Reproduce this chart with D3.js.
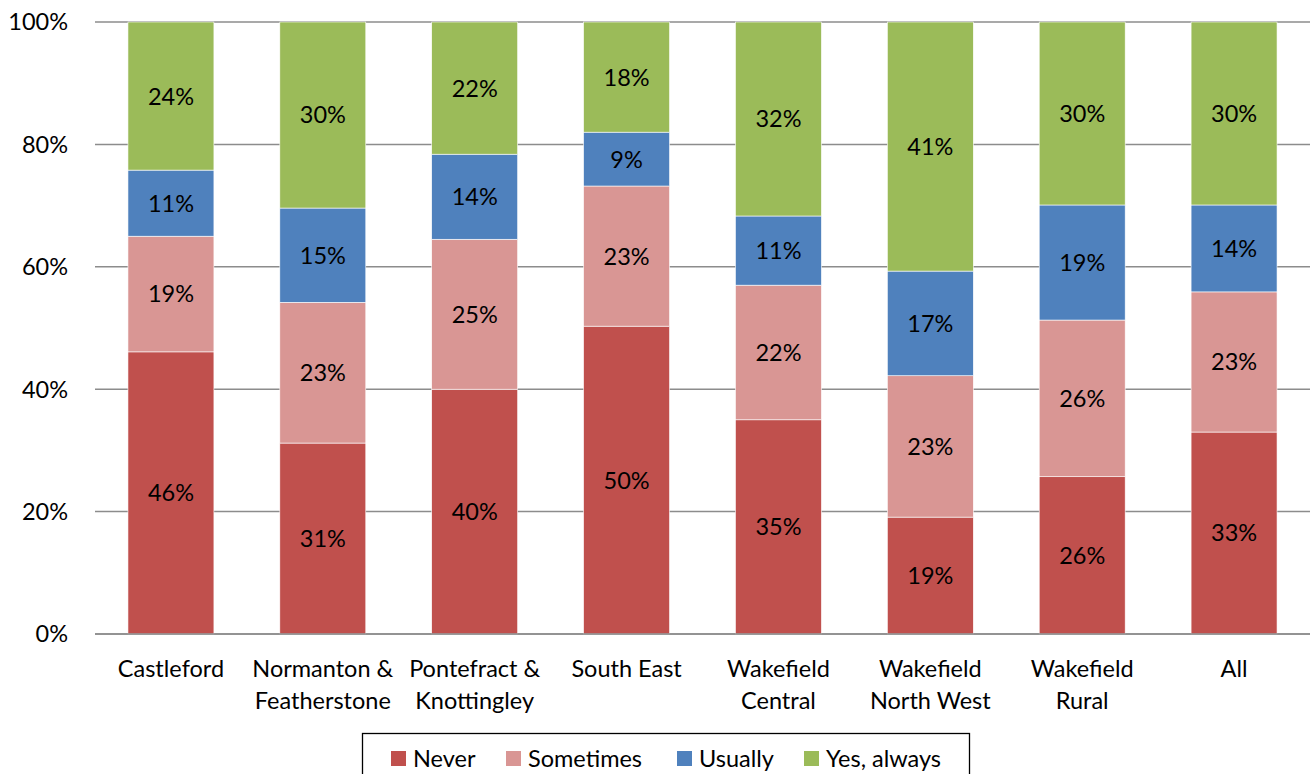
<!DOCTYPE html>
<html><head><meta charset="utf-8">
<script src="https://cdn.jsdelivr.net/npm/d3@7"></script>
<style>body{margin:0;background:#fff;} svg{display:block;font-family:Lato, "Open Sans", sans-serif;}</style>
</head><body>
<svg id="c" width="1314" height="774"></svg>
<script>
const categories = [["Castleford"],["Normanton &","Featherstone"],["Pontefract &","Knottingley"],["South East"],["Wakefield","Central"],["Wakefield","North West"],["Wakefield","Rural"],["All"]];
const seriesNames = ["Never","Sometimes","Usually","Yes, always"];
const never     = [46.1, 31.2, 40.0, 50.3, 35.0, 19.1, 25.7, 33.0];
const sometimes = [18.9, 23.0, 24.5, 22.9, 22.0, 23.1, 25.6, 22.9];
const usually   = [10.8, 15.4, 13.9,  8.8, 11.3, 17.1, 18.8, 14.2];
const always    = [24.2, 30.4, 21.6, 18.0, 31.7, 40.7, 29.9, 29.9];
const yTicks = [0,20,40,60,80,100];
const colors = ["#C0504D","#D99694","#4F81BD","#9BBB59"];

const svg = d3.select("#c");
const L = 95, R = 1310, T = 22, B = 634;
const FS = 23.5;
const x = d3.scaleBand().domain(d3.range(categories.length)).range([L,R]).paddingInner(0.434).paddingOuter(0.217);
const y = d3.scaleLinear().domain([0,100]).range([B,T]);

svg.append("g").selectAll("line").data(yTicks).join("line")
  .attr("x1",L).attr("x2",R).attr("y1",d=>y(d)).attr("y2",d=>y(d))
  .attr("stroke","#8c8c8c").attr("stroke-width",1.5);

svg.append("g").selectAll("text").data(yTicks).join("text")
  .attr("x",68).attr("y",d=>y(d)).attr("dy","0.36em").attr("text-anchor","end")
  .attr("font-size",FS).attr("fill","#000").text(d=>d+"%");

const series = [never,sometimes,usually,always];
const rows = categories.map((c,i)=>{const o={i}; seriesNames.forEach((s,k)=>o[s]=series[k][i]); return o;});
const stacked = d3.stack().keys(seriesNames)(rows);

const g = svg.append("g");
stacked.forEach((layer,k)=>{
  g.selectAll(null).data(layer).join("rect")
    .attr("x",d=>x(d.data.i)).attr("width",x.bandwidth())
    .attr("y",d=>y(d[1])).attr("height",d=>y(d[0])-y(d[1]))
    .attr("fill",colors[k]).attr("stroke","#fff").attr("stroke-width",0.6);
  g.selectAll(null).data(layer).join("text")
    .attr("x",d=>x(d.data.i)+x.bandwidth()/2).attr("y",d=>(y(d[0])+y(d[1]))/2)
    .attr("dy","0.36em").attr("text-anchor","middle").attr("font-size",FS).attr("fill","#000")
    .text(d=>Math.round(d[1]-d[0])+"%");
});

svg.append("line").attr("x1",L).attr("x2",R).attr("y1",B).attr("y2",B).attr("stroke","#8c8c8c").attr("stroke-width",1.5);

const cl = svg.append("g").selectAll("text").data(categories).join("text")
  .attr("x",(d,i)=>x(i)+x.bandwidth()/2).attr("y",677).attr("text-anchor","middle")
  .attr("font-size",FS).attr("fill","#000");
cl.each(function(d){
  const t=d3.select(this);
  d.forEach((line,j)=>t.append("tspan").attr("x",t.attr("x")).attr("dy",j===0?0:32).text(line));
});

const lg = svg.append("g");
lg.append("rect").attr("x",362.5).attr("y",733.5).attr("width",607).attr("height",60).attr("fill","#fff").attr("stroke","#000").attr("stroke-width",1.3);
const lx = [391, 506, 677, 804];
seriesNames.forEach((s,k)=>{
  lg.append("rect").attr("x",lx[k]).attr("y",751).attr("width",15).attr("height",15).attr("fill",colors[k]);
  lg.append("text").attr("x",lx[k]+22).attr("y",767).attr("font-size",FS).attr("fill","#000").text(s);
});
</script>
</body></html>
